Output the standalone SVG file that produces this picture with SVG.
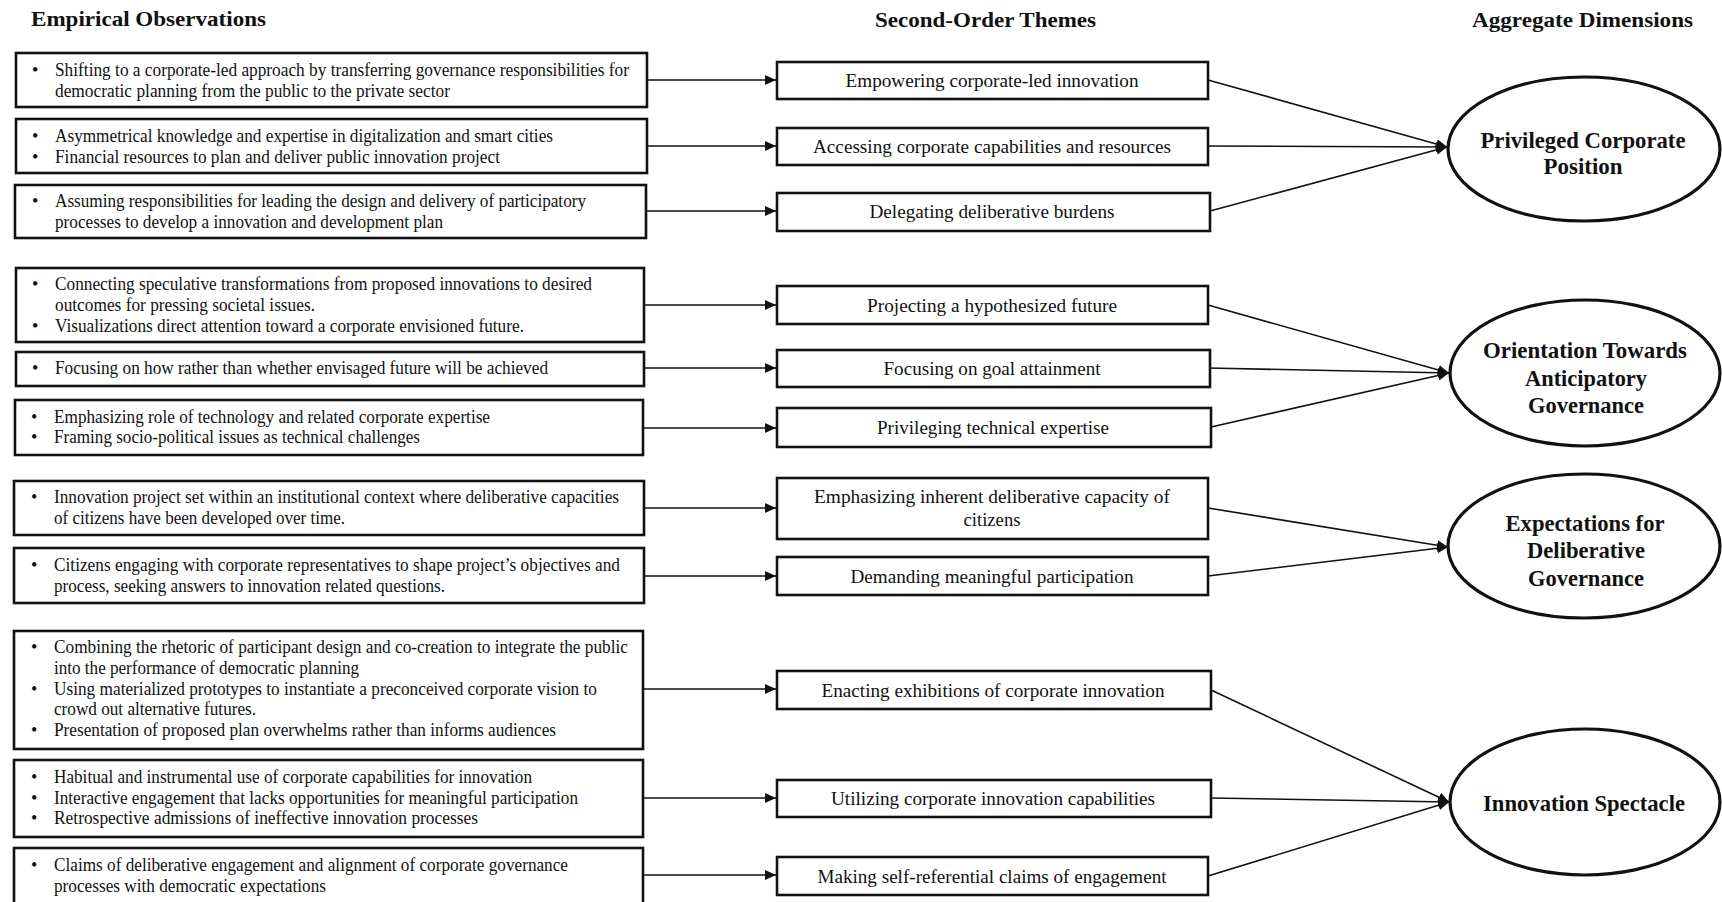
<svg xmlns="http://www.w3.org/2000/svg" width="1722" height="902" viewBox="0 0 1722 902">
<style>
  text { font-family: "Liberation Serif", "Times New Roman", serif; fill: #111; }
  .hdr { font-size: 22px; font-weight: bold; }
  .obs { font-size: 18px; lengthAdjust: spacingAndGlyphs; }
  .thm { font-size: 19px; text-anchor: middle; }
  .dim { font-size: 23px; font-weight: bold; text-anchor: middle; }
  .box { fill: #fff; stroke: #111; stroke-width: 2.6; }
  .ell { fill: #fff; stroke: #111; stroke-width: 3.2; }
  .con { stroke: #111; stroke-width: 1.6; fill: none; marker-end: url(#ah); }
</style>
<defs>
  <marker id="ah" markerWidth="12" markerHeight="10" refX="11" refY="5" orient="auto" markerUnits="userSpaceOnUse">
    <path d="M0,0 L11,5 L0,10 z" fill="#111"/>
  </marker>
</defs>
<rect width="1722" height="902" fill="#fff"/>

<g id="headers">
  <text class="hdr" x="31" y="26" textLength="235" lengthAdjust="spacingAndGlyphs">Empirical Observations</text>
  <text class="hdr" x="875" y="27" textLength="221" lengthAdjust="spacingAndGlyphs">Second-Order Themes</text>
  <text class="hdr" x="1472" y="27" textLength="221" lengthAdjust="spacingAndGlyphs">Aggregate Dimensions</text>
</g>

<g id="connectors">
  <line class="con" x1="648" y1="80" x2="776" y2="80"/>
  <line class="con" x1="648" y1="146" x2="776" y2="146"/>
  <line class="con" x1="647" y1="211" x2="776" y2="211"/>
  <line class="con" x1="645" y1="305" x2="776" y2="305"/>
  <line class="con" x1="645" y1="368" x2="776" y2="368"/>
  <line class="con" x1="644" y1="428" x2="776" y2="428"/>
  <line class="con" x1="645" y1="508" x2="776" y2="508"/>
  <line class="con" x1="645" y1="576" x2="776" y2="576"/>
  <line class="con" x1="643" y1="689" x2="776" y2="689"/>
  <line class="con" x1="643" y1="798" x2="776" y2="798"/>
  <line class="con" x1="643" y1="875" x2="776" y2="875"/>

  <line class="con" x1="1208" y1="80" x2="1447" y2="147"/>
  <line class="con" x1="1208" y1="146" x2="1447" y2="147"/>
  <line class="con" x1="1210" y1="211" x2="1447" y2="147"/>

  <line class="con" x1="1208" y1="305" x2="1449" y2="373"/>
  <line class="con" x1="1208" y1="368" x2="1449" y2="373"/>
  <line class="con" x1="1211" y1="427" x2="1449" y2="373"/>

  <line class="con" x1="1208" y1="508" x2="1448" y2="547"/>
  <line class="con" x1="1208" y1="576" x2="1448" y2="547"/>

  <line class="con" x1="1211" y1="690" x2="1449" y2="802"/>
  <line class="con" x1="1211" y1="798" x2="1449" y2="802"/>
  <line class="con" x1="1208" y1="876" x2="1449" y2="802"/>
</g>

<!-- Empirical observation boxes -->
<g id="obs1">
  <rect class="box" x="16" y="53" width="631" height="54"/>
  <text class="obs" x="32" y="76">•</text>
  <text class="obs" x="55" y="76" textLength="574" lengthAdjust="spacingAndGlyphs">Shifting  to a corporate-led approach by transferring  governance responsibilities  for</text>
  <text class="obs" x="55" y="97" textLength="395" lengthAdjust="spacingAndGlyphs">democratic planning  from the public to the private sector</text>
</g>
<g id="obs2">
  <rect class="box" x="16" y="119" width="631" height="54"/>
  <text class="obs" x="32" y="142">•</text>
  <text class="obs" x="55" y="142" textLength="498" lengthAdjust="spacingAndGlyphs">Asymmetrical  knowledge and expertise in digitalization  and smart cities</text>
  <text class="obs" x="32" y="163">•</text>
  <text class="obs" x="55" y="163" textLength="445" lengthAdjust="spacingAndGlyphs">Financial  resources to plan and deliver  public innovation  project</text>
</g>
<g id="obs3">
  <rect class="box" x="15" y="185" width="631" height="53"/>
  <text class="obs" x="32" y="207">•</text>
  <text class="obs" x="55" y="207" textLength="531" lengthAdjust="spacingAndGlyphs">Assuming responsibilities  for leading the design and delivery  of participatory</text>
  <text class="obs" x="55" y="228" textLength="388" lengthAdjust="spacingAndGlyphs">processes to develop a innovation  and development plan</text>
</g>
<g id="obs4">
  <rect class="box" x="16" y="268" width="628" height="74"/>
  <text class="obs" x="32" y="290">•</text>
  <text class="obs" x="55" y="290" textLength="537" lengthAdjust="spacingAndGlyphs">Connecting speculative transformations  from proposed innovations to desired</text>
  <text class="obs" x="55" y="311" textLength="260" lengthAdjust="spacingAndGlyphs">outcomes for pressing societal issues.</text>
  <text class="obs" x="32" y="332">•</text>
  <text class="obs" x="55" y="332" textLength="469" lengthAdjust="spacingAndGlyphs">Visualizations  direct attention  toward a corporate envisioned  future.</text>
</g>
<g id="obs5">
  <rect class="box" x="16" y="352" width="628" height="34"/>
  <text class="obs" x="32" y="374">•</text>
  <text class="obs" x="55" y="374" textLength="493" lengthAdjust="spacingAndGlyphs">Focusing on how rather than whether  envisaged  future  will  be achieved</text>
</g>
<g id="obs6">
  <rect class="box" x="15" y="400" width="628" height="55"/>
  <text class="obs" x="31" y="423">•</text>
  <text class="obs" x="54" y="423" textLength="436" lengthAdjust="spacingAndGlyphs">Emphasizing  role of technology and related  corporate expertise</text>
  <text class="obs" x="31" y="443">•</text>
  <text class="obs" x="54" y="443" textLength="366" lengthAdjust="spacingAndGlyphs">Framing  socio-political  issues as technical  challenges</text>
</g>
<g id="obs7">
  <rect class="box" x="14" y="481" width="630" height="54"/>
  <text class="obs" x="31" y="503">•</text>
  <text class="obs" x="54" y="503" textLength="565" lengthAdjust="spacingAndGlyphs">Innovation  project set within  an institutional  context where deliberative  capacities</text>
  <text class="obs" x="54" y="524" textLength="291" lengthAdjust="spacingAndGlyphs">of citizens  have been developed over time.</text>
</g>
<g id="obs8">
  <rect class="box" x="14" y="548" width="630" height="55"/>
  <text class="obs" x="31" y="571">•</text>
  <text class="obs" x="54" y="571" textLength="566" lengthAdjust="spacingAndGlyphs">Citizens  engaging  with  corporate representatives  to  shape project’s objectives and</text>
  <text class="obs" x="54" y="592" textLength="391" lengthAdjust="spacingAndGlyphs">process, seeking answers to innovation  related  questions.</text>
</g>
<g id="obs9">
  <rect class="box" x="14" y="631" width="629" height="118"/>
  <text class="obs" x="31" y="653">•</text>
  <text class="obs" x="54" y="653" textLength="574" lengthAdjust="spacingAndGlyphs">Combining  the rhetoric  of participant  design and co-creation to integrate  the public</text>
  <text class="obs" x="54" y="674" textLength="305" lengthAdjust="spacingAndGlyphs">into the performance of democratic planning</text>
  <text class="obs" x="31" y="695">•</text>
  <text class="obs" x="54" y="695" textLength="543" lengthAdjust="spacingAndGlyphs">Using materialized  prototypes to instantiate  a preconceived corporate vision  to</text>
  <text class="obs" x="54" y="715" textLength="202" lengthAdjust="spacingAndGlyphs">crowd out alternative  futures.</text>
  <text class="obs" x="31" y="736">•</text>
  <text class="obs" x="54" y="736" textLength="502" lengthAdjust="spacingAndGlyphs">Presentation  of proposed plan  overwhelms  rather  than  informs  audiences</text>
</g>
<g id="obs10">
  <rect class="box" x="14" y="760" width="629" height="77"/>
  <text class="obs" x="31" y="783">•</text>
  <text class="obs" x="54" y="783" textLength="478" lengthAdjust="spacingAndGlyphs">Habitual  and instrumental  use of corporate capabilities  for innovation</text>
  <text class="obs" x="31" y="804">•</text>
  <text class="obs" x="54" y="804" textLength="524" lengthAdjust="spacingAndGlyphs">Interactive  engagement  that lacks opportunities  for meaningful  participation</text>
  <text class="obs" x="31" y="824">•</text>
  <text class="obs" x="54" y="824" textLength="424" lengthAdjust="spacingAndGlyphs">Retrospective admissions of ineffective  innovation  processes</text>
</g>
<g id="obs11">
  <rect class="box" x="14" y="848" width="629" height="62"/>
  <text class="obs" x="31" y="871">•</text>
  <text class="obs" x="54" y="871" textLength="514" lengthAdjust="spacingAndGlyphs">Claims  of deliberative  engagement  and alignment  of corporate governance</text>
  <text class="obs" x="54" y="892" textLength="272" lengthAdjust="spacingAndGlyphs">processes with  democratic expectations</text>
</g>

<!-- Second-order themes -->
<g id="thm1">
  <rect class="box" x="777" y="62" width="431" height="37"/>
  <text class="thm" x="992" y="87" textLength="293" lengthAdjust="spacingAndGlyphs">Empowering corporate-led innovation</text>
</g>
<g id="thm2">
  <rect class="box" x="777" y="128" width="431" height="37"/>
  <text class="thm" x="992" y="153" textLength="358" lengthAdjust="spacingAndGlyphs">Accessing  corporate capabilities and resources</text>
</g>
<g id="thm3">
  <rect class="box" x="777" y="193" width="433" height="38"/>
  <text class="thm" x="992" y="218" textLength="245" lengthAdjust="spacingAndGlyphs">Delegating deliberative burdens</text>
</g>
<g id="thm4">
  <rect class="box" x="777" y="286" width="431" height="38"/>
  <text class="thm" x="992" y="312" textLength="250" lengthAdjust="spacingAndGlyphs">Projecting a hypothesized  future</text>
</g>
<g id="thm5">
  <rect class="box" x="777" y="350" width="433" height="37"/>
  <text class="thm" x="992" y="375" textLength="217" lengthAdjust="spacingAndGlyphs">Focusing on goal attainment</text>
</g>
<g id="thm6">
  <rect class="box" x="777" y="408" width="434" height="39"/>
  <text class="thm" x="993" y="434" textLength="232" lengthAdjust="spacingAndGlyphs">Privileging technical expertise</text>
</g>
<g id="thm7">
  <rect class="box" x="777" y="478" width="431" height="61"/>
  <text class="thm" x="992" y="503" textLength="356" lengthAdjust="spacingAndGlyphs">Emphasizing  inherent  deliberative capacity  of</text>
  <text class="thm" x="992" y="526" textLength="57" lengthAdjust="spacingAndGlyphs">citizens</text>
</g>
<g id="thm8">
  <rect class="box" x="777" y="557" width="431" height="38"/>
  <text class="thm" x="992" y="583" textLength="283" lengthAdjust="spacingAndGlyphs">Demanding  meaningful participation</text>
</g>
<g id="thm9">
  <rect class="box" x="777" y="671" width="434" height="38"/>
  <text class="thm" x="993" y="697" textLength="343" lengthAdjust="spacingAndGlyphs">Enacting exhibitions of corporate innovation</text>
</g>
<g id="thm10">
  <rect class="box" x="777" y="780" width="434" height="37"/>
  <text class="thm" x="993" y="805" textLength="324" lengthAdjust="spacingAndGlyphs">Utilizing corporate innovation capabilities</text>
</g>
<g id="thm11">
  <rect class="box" x="777" y="857" width="431" height="38"/>
  <text class="thm" x="992" y="883" textLength="349" lengthAdjust="spacingAndGlyphs">Making  self-referential  claims of engagement</text>
</g>

<!-- Aggregate dimensions -->
<g id="dim1">
  <ellipse class="ell" cx="1584" cy="149" rx="136" ry="72"/>
  <text class="dim" x="1583" y="148" textLength="205" lengthAdjust="spacingAndGlyphs">Privileged Corporate</text>
  <text class="dim" x="1583" y="174" textLength="79" lengthAdjust="spacingAndGlyphs">Position</text>
</g>
<g id="dim2">
  <ellipse class="ell" cx="1585" cy="373" rx="135" ry="73"/>
  <text class="dim" x="1585" y="358" textLength="204" lengthAdjust="spacingAndGlyphs">Orientation  Towards</text>
  <text class="dim" x="1586" y="386" textLength="122" lengthAdjust="spacingAndGlyphs">Anticipatory</text>
  <text class="dim" x="1586" y="413" textLength="116" lengthAdjust="spacingAndGlyphs">Governance</text>
</g>
<g id="dim3">
  <ellipse class="ell" cx="1584" cy="546" rx="136" ry="72"/>
  <text class="dim" x="1585" y="531" textLength="159" lengthAdjust="spacingAndGlyphs">Expectations for</text>
  <text class="dim" x="1586" y="558" textLength="118" lengthAdjust="spacingAndGlyphs">Deliberative</text>
  <text class="dim" x="1586" y="586" textLength="116" lengthAdjust="spacingAndGlyphs">Governance</text>
</g>
<g id="dim4">
  <ellipse class="ell" cx="1585" cy="802" rx="135" ry="73"/>
  <text class="dim" x="1584" y="811" textLength="202" lengthAdjust="spacingAndGlyphs">Innovation Spectacle</text>
</g>
</svg>
